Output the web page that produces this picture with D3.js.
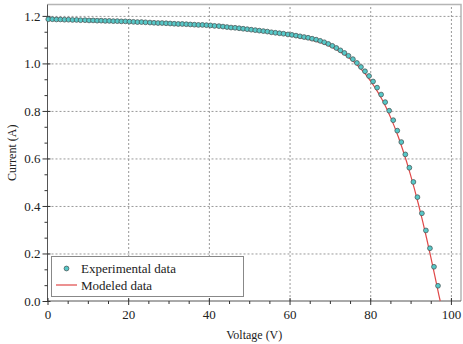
<!DOCTYPE html>
<html>
<head>
<meta charset="utf-8">
<script src="https://cdn.jsdelivr.net/npm/d3@7"></script>
<style>
  body { margin: 0; background: #fff; }
  svg { display: block; font-family: "Liberation Serif", "DejaVu Serif", serif; }
  .grid line { stroke: #999; stroke-dasharray: 2,2; stroke-width: 1; }
  .grid path { display: none; }
  .axis path { display: none; }
  .axis line { stroke: #333; }
  .axis text { font-size: 13px; fill: #222; font-family: "Liberation Serif", serif; }
</style>
</head>
<body>
<div id="chart"></div>
<script>
// measured points (voltage V, current A)
const expV = [0.2,1.2,2.2,3.2,4.2,5.2,6.2,7.2,8.2,9.3,10.3,11.3,12.3,13.3,14.3,15.3,16.3,17.3,18.3,19.3,
  20.3,21.3,22.3,23.3,24.3,25.4,26.4,27.4,28.4,29.4,30.4,31.4,32.4,33.4,34.4,35.4,36.4,37.4,38.4,39.4,
  40.4,41.4,42.5,43.5,44.5,45.5,46.5,47.5,48.5,49.5,50.5,51.5,52.5,53.5,54.5,55.5,56.5,57.5,58.5,59.6,
  60.6,61.6,62.6,63.6,64.6,65.6,66.6,67.6,68.6,69.6,70.6,71.6,72.6,73.6,74.6,75.7,76.7,77.7,78.7,79.7,
  80.7,81.7,82.7,83.7,84.7,85.7,86.7,87.7,88.7,89.7,90.7,91.7,92.8,93.8,94.8,95.8,96.8];
const expI = [1.186,1.186,1.185,1.185,1.184,1.184,1.183,1.183,1.182,1.182,1.181,1.181,1.180,1.180,1.179,1.179,1.178,1.178,1.177,1.177,
  1.176,1.175,1.174,1.174,1.173,1.172,1.171,1.170,1.170,1.169,1.168,1.167,1.166,1.166,1.165,1.164,1.163,1.162,1.162,1.161,
  1.160,1.158,1.157,1.155,1.153,1.151,1.150,1.148,1.146,1.144,1.142,1.140,1.138,1.136,1.134,1.131,1.129,1.127,1.125,1.122,
  1.120,1.117,1.114,1.111,1.108,1.104,1.100,1.095,1.089,1.082,1.074,1.065,1.055,1.044,1.032,1.018,1.002,0.985,0.967,0.947,
  0.924,0.898,0.869,0.837,0.801,0.761,0.717,0.669,0.617,0.561,0.501,0.437,0.369,0.297,0.222,0.144,0.064];

// model curve
const modV = [0,5,10,15,20,25,30,35,40,45,50,55,60,62,64,66,68,70,72,74,75,76,77,78,79,80,
  81,82,83,84,85,86,87,88,89,90,91,92,93,94,95,96,97,97.35];
const modI = [1.184,1.182,1.180,1.178,1.175,1.172,1.168,1.163,1.158,1.151,1.142,1.131,1.118,1.111,1.104,1.096,1.086,1.073,1.054,1.033,1.020,1.006,0.989,0.971,0.951,0.928,
  0.903,0.876,0.846,0.812,0.775,0.734,0.689,0.640,0.587,0.530,0.469,0.404,0.335,0.262,0.186,0.107,0.026,0];

const xTicks = [0,20,40,60,80,100];
const yTicks = [0,0.2,0.4,0.6,0.8,1.0,1.2];

const W = 463, H = 344;
const m = {left: 47.5, right: 461, top: 4.5, bottom: 301};

const svg = d3.select('#chart').append('svg').attr('width', W).attr('height', H);

const x = d3.scaleLinear().domain([0, 102.5]).range([m.left, m.right]);
const y = d3.scaleLinear().domain([0, 1.248]).range([m.bottom, m.top]);

// grid
svg.append('g').attr('class', 'grid')
  .attr('transform', 'translate(0,' + m.bottom + ')')
  .call(d3.axisBottom(x).tickValues(xTicks.slice(1)).tickSize(-(m.bottom - m.top)).tickFormat(''));
svg.append('g').attr('class', 'grid')
  .attr('transform', 'translate(' + m.left + ',0)')
  .call(d3.axisLeft(y).tickValues(yTicks.slice(1)).tickSize(-(m.right - m.left)).tickFormat(''));

// frame
svg.append('path')
  .attr('d', 'M' + m.left + ',' + m.top + 'H' + m.right + 'V' + m.bottom)
  .attr('fill', 'none').attr('stroke', '#b5b5b5').attr('stroke-width', 1.5);
svg.append('path')
  .attr('d', 'M' + m.left + ',' + m.top + 'V' + m.bottom + 'H' + m.right)
  .attr('fill', 'none').attr('stroke', '#555').attr('stroke-width', 1);

// minor ticks
const xMinor = d3.range(0, 101, 5).filter(d => d % 20 !== 0);
const yMinor = d3.range(0, 19).map(i => i * 0.2 / 3).filter((d, i) => i % 3 !== 0);
svg.append('g').attr('class', 'axis')
  .attr('transform', 'translate(0,' + m.bottom + ')')
  .call(d3.axisBottom(x).tickValues(xMinor).tickSize(3).tickFormat(''));
svg.append('g').attr('class', 'axis')
  .attr('transform', 'translate(' + m.left + ',0)')
  .call(d3.axisLeft(y).tickValues(yMinor).tickSize(3).tickFormat(''));

// major axes
const xAxis = svg.append('g').attr('class', 'axis')
  .attr('transform', 'translate(0,' + m.bottom + ')')
  .call(d3.axisBottom(x).tickValues(xTicks).tickSize(4).tickPadding(5).tickFormat(d3.format('d')));
xAxis.selectAll('.tick line').attr('y1', -3);
const yAxis = svg.append('g').attr('class', 'axis')
  .attr('transform', 'translate(' + m.left + ',0)')
  .call(d3.axisLeft(y).tickValues(yTicks).tickSize(5).tickPadding(2).tickFormat(d3.format('.1f')));
yAxis.selectAll('.tick line').attr('x1', 3);

// model line
const line = d3.line().x((d, i) => x(modV[i])).y(d => y(d));
svg.append('path')
  .datum(modI)
  .attr('d', line)
  .attr('fill', 'none')
  .attr('stroke', '#e04848')
  .attr('stroke-width', 1.2);

// experimental points
svg.append('g').selectAll('circle')
  .data(expI)
  .enter()
  .append('circle')
  .attr('cx', (d, i) => x(expV[i]))
  .attr('cy', d => y(d))
  .attr('r', 2.4)
  .attr('fill', '#56c8c8')
  .attr('stroke', '#4a5a5a')
  .attr('stroke-width', 0.8);

// legend
const lg = svg.append('g');
lg.append('rect')
  .attr('x', 51.5).attr('y', 256.5).attr('width', 192).attr('height', 40)
  .attr('fill', '#fff').attr('stroke', '#888').attr('stroke-width', 1);
lg.append('circle').attr('cx', 66.5).attr('cy', 268.5).attr('r', 2.4)
  .attr('fill', '#56c8c8').attr('stroke', '#4a5a5a').attr('stroke-width', 0.8);
lg.append('line').attr('x1', 56).attr('x2', 77).attr('y1', 285).attr('y2', 285)
  .attr('stroke', '#e04848').attr('stroke-width', 1.2);
lg.append('text').attr('x', 81).attr('y', 273).attr('font-size', 13).attr('fill', '#222').text('Experimental data');
lg.append('text').attr('x', 81).attr('y', 290).attr('font-size', 13).attr('fill', '#222').text('Modeled data');

// axis titles
svg.append('text')
  .attr('x', (m.left + m.right) / 2).attr('y', 339)
  .attr('text-anchor', 'middle').attr('font-size', 12).attr('fill', '#222')
  .text('Voltage (V)');
svg.append('text')
  .attr('transform', 'translate(16,' + ((m.top + m.bottom) / 2) + ') rotate(-90)')
  .attr('text-anchor', 'middle').attr('font-size', 12).attr('fill', '#222')
  .text('Current (A)');
</script>
</body>
</html>
